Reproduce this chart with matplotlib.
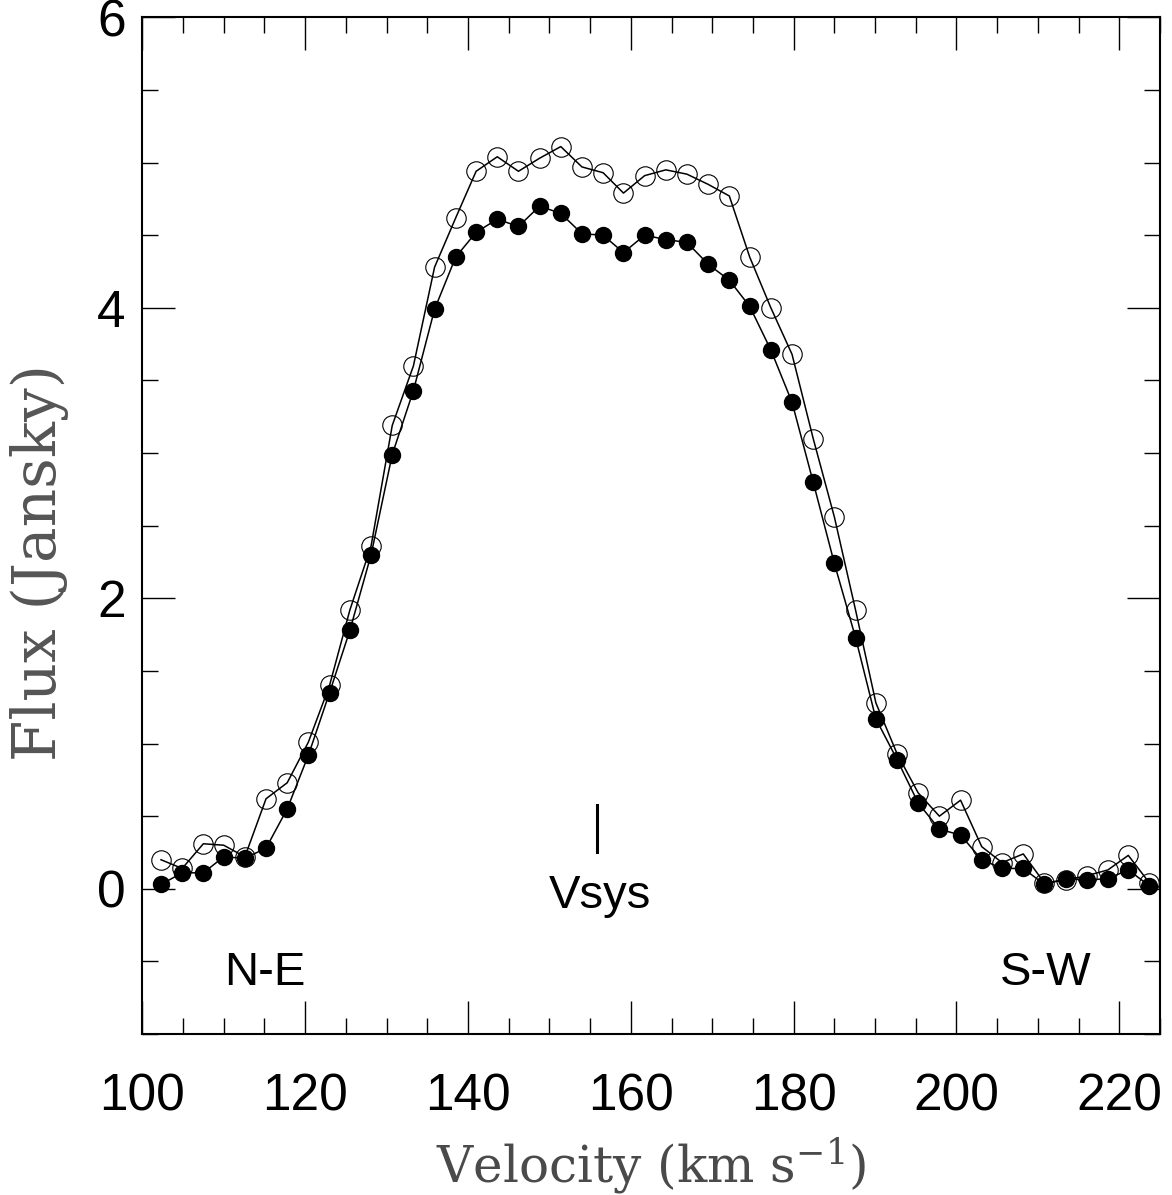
"""HI line profile: flux vs velocity, two integrations."""

import matplotlib
matplotlib.use("Agg")
import matplotlib.pyplot as plt
from matplotlib.ticker import MultipleLocator

# channel velocities (km/s)
velocity = [102.3, 104.9, 107.5, 110.0, 112.6, 115.2, 117.8, 120.4, 123.0, 125.5,
            128.1, 130.7, 133.3, 135.9, 138.5, 141.0, 143.6, 146.2, 148.8, 151.4,
            154.0, 156.6, 159.1, 161.7, 164.3, 166.9, 169.5, 172.1, 174.6, 177.2,
            179.8, 182.4, 185.0, 187.6, 190.1, 192.7, 195.3, 197.9, 200.5, 203.1,
            205.6, 208.2, 210.8, 213.4, 216.0, 218.6, 221.1, 223.7]

# open circles
flux_open = [0.20, 0.14, 0.31, 0.30, 0.22, 0.62, 0.73, 1.01, 1.40, 1.92,
             2.36, 3.19, 3.60, 4.28, 4.62, 4.94, 5.04, 4.94, 5.03, 5.11,
             4.97, 4.93, 4.79, 4.91, 4.95, 4.92, 4.85, 4.77, 4.35, 4.00,
             3.68, 3.10, 2.56, 1.92, 1.28, 0.93, 0.66, 0.50, 0.61, 0.29,
             0.18, 0.24, 0.04, 0.06, 0.09, 0.13, 0.23, 0.04]

# filled circles
flux_filled = [0.03, 0.11, 0.11, 0.22, 0.21, 0.28, 0.55, 0.92, 1.35, 1.78,
               2.30, 2.99, 3.43, 3.99, 4.35, 4.52, 4.61, 4.56, 4.70, 4.65,
               4.51, 4.50, 4.38, 4.50, 4.47, 4.45, 4.30, 4.19, 4.01, 3.71,
               3.35, 2.80, 2.24, 1.73, 1.17, 0.89, 0.59, 0.41, 0.37, 0.20,
               0.14, 0.14, 0.03, 0.07, 0.06, 0.07, 0.13, 0.02]

v_sys = 155.8
x_ticks = [100, 120, 140, 160, 180, 200, 220]
y_ticks = [0, 2, 4, 6]

plt.rcParams["font.family"] = ["Liberation Sans", "DejaVu Sans"]
plt.rcParams["mathtext.fontset"] = "dejavuserif"

fig = plt.figure(figsize=(11.72, 11.95), dpi=100)
ax = fig.add_axes([0.1214, 0.1347, 0.8684, 0.8508])

ax.plot(velocity, flux_open, color="black", lw=1.1, marker="o", ms=14,
        mfc="none", mec="black", mew=0.8, zorder=2)
ax.plot(velocity, flux_filled, color="black", lw=1.1, marker="o", ms=11.5,
        mfc="black", mec="black", zorder=3)

# systemic velocity marker
ax.plot([v_sys, v_sys], [0.25, 0.58], color="black", lw=2.2)
ax.text(156.2, -0.13, "Vsys", ha="center", va="baseline", fontsize=34)
ax.text(115.0, -0.66, "N-E", ha="center", va="baseline", fontsize=34)
ax.text(211.0, -0.66, "S-W", ha="center", va="baseline", fontsize=34)

ax.set_xlim(100, 225)
ax.set_ylim(-1, 6)
ax.set_xticks(x_ticks)
ax.set_yticks(y_ticks)
ax.xaxis.set_minor_locator(MultipleLocator(5))
ax.yaxis.set_minor_locator(MultipleLocator(0.5))
ax.tick_params(which="both", direction="in", top=True, right=True, width=1.0)
ax.tick_params(which="major", length=24, labelsize=37)
ax.tick_params(axis="x", which="major", pad=28)
ax.tick_params(axis="y", which="major", pad=12)
ax.tick_params(which="minor", length=11.5)
for spine in ax.spines.values():
    spine.set_linewidth(1.5)

ax.set_xlabel("Velocity (km s$^{-1}$)", fontsize=36, family="DejaVu Serif",
              color="#4a4a4a", va="top")
ax.xaxis.set_label_coords(0.5, -0.100)
ax.set_ylabel("Flux (Jansky)", fontsize=43, family="DejaVu Serif",
              color="#555555")
ax.yaxis.set_label_coords(-0.072, 0.464)

fig.savefig("out.png", dpi=100)
